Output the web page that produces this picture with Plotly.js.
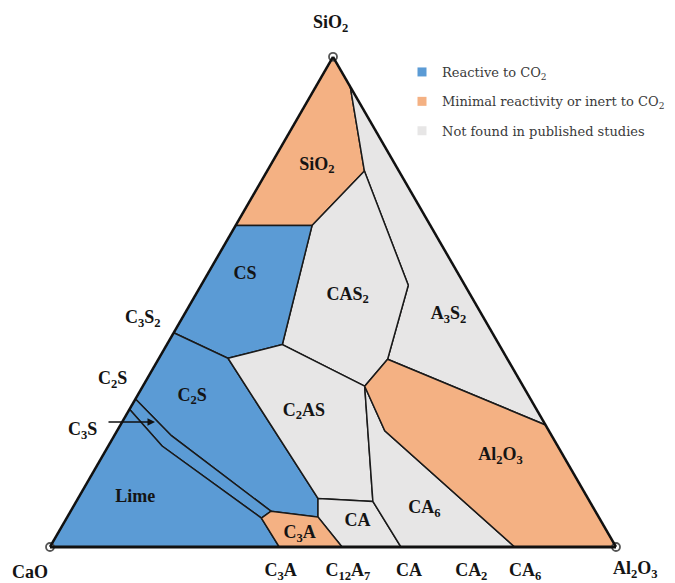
<!DOCTYPE html>
<html><head><meta charset="utf-8">
<script src="https://cdn.plot.ly/plotly-3.0.1.min.js"></script>
<style>html,body{margin:0;padding:0;background:#fff}#chart{width:675px;height:583px}</style>
</head><body><div id="chart"></div>
<script>
// Phase fields of the CaO–SiO2–Al2O3 system (compositions in %)
const regionNames = ['SiO2', 'A3S2', 'CAS2', 'CS', 'C2S', 'C3S', 'Lime', 'C2AS', 'CA', 'CA6', 'Al2O3', 'C3A'];
const regionClass = ['inert', 'none', 'none', 'reactive', 'reactive', 'reactive', 'reactive', 'none', 'none', 'none', 'inert', 'inert'];
const regionSiO2 = [
  [100, 93.9, 76.7, 65.6, 65.6, 100],
  [93.9, 24.9, 38.3, 53.4, 76.7, 93.9],
  [65.6, 76.7, 53.4, 38.3, 32.8, 41.3, 65.6],
  [65.6, 65.6, 41.3, 38.5, 43.7, 65.6],
  [43.7, 38.5, 9.9, 6.1, 7.3, 22.7, 30.2, 43.7],
  [30.2, 22.7, 7.3, 5.9, 20.6, 28.1, 30.2],
  [0, 28.1, 20.6, 5.9, 0, 0],
  [38.5, 41.3, 32.8, 9.3, 9.9, 38.5],
  [9.9, 9.3, 0, 0, 6.1, 9.9],
  [32.8, 23.7, 0, 0, 9.3, 32.8],
  [38.3, 24.9, 0, 0, 23.7, 32.8, 38.3],
  [5.9, 7.3, 6.1, 0, 0, 5.9]
];
const regionCaO = [
  [0, 0, 6.1, 20.9, 34.4, 0],
  [0, 0, 21.2, 10.0, 6.1, 0],
  [20.9, 6.1, 10.0, 21.2, 28.0, 38.3, 20.9],
  [34.4, 20.9, 38.3, 49.3, 56.3, 34.4],
  [56.3, 49.3, 47.7, 49.6, 57.3, 67.2, 69.8, 56.3],
  [69.8, 67.2, 57.3, 59.7, 69.9, 71.9, 69.8],
  [100, 71.9, 69.9, 59.7, 59.5, 100],
  [49.3, 38.3, 28.0, 38.3, 47.7, 49.3],
  [47.7, 38.3, 38.0, 48.4, 49.6, 47.7],
  [28.0, 29.0, 17.9, 38.0, 38.3, 28.0],
  [21.2, 0, 0, 17.9, 29.0, 28.0, 21.2],
  [59.7, 57.3, 49.6, 48.4, 59.5, 59.7]
];
const regionAl2O3 = [
  [0, 6.1, 17.2, 13.5, 0, 0],
  [6.1, 75.1, 40.5, 36.6, 17.2, 6.1],
  [13.5, 17.2, 36.6, 40.5, 39.2, 20.4, 13.5],
  [0, 13.5, 20.4, 12.2, 0, 0],
  [0, 12.2, 42.4, 44.3, 35.4, 10.1, 0, 0],
  [0, 10.1, 35.4, 34.4, 9.5, 0, 0],
  [0, 0, 9.5, 34.4, 40.5, 0],
  [12.2, 20.4, 39.2, 52.4, 42.4, 12.2],
  [42.4, 52.4, 62.0, 51.6, 44.3, 42.4],
  [39.2, 47.3, 82.1, 62.0, 52.4, 39.2],
  [40.5, 75.1, 100, 82.1, 47.3, 39.2, 40.5],
  [34.4, 35.4, 44.3, 51.6, 40.5, 34.4]
];

// Field labels
const labelText = ['SiO<sub>2</sub>', 'CS', 'CAS<sub>2</sub>', 'A<sub>3</sub>S<sub>2</sub>', 'C<sub>2</sub>S', 'C<sub>2</sub>AS',
  'Al<sub>2</sub>O<sub>3</sub>', 'Lime', 'C<sub>3</sub>A', 'CA', 'CA<sub>6</sub>'];
const labelSiO2 = [77.9, 55.5, 51.4, 47.4, 30.8, 27.7, 18.6, 10.1, 2.8, 5.1, 7.9];
const labelCaO = [13.9, 37.8, 21.7, 5.9, 59.5, 41.3, 11.1, 79.9, 54.5, 43.1, 29.9];
const labelAl2O3 = [8.2, 6.7, 26.9, 46.7, 9.7, 31.0, 70.3, 10.0, 42.7, 51.8, 62.2];

// Compounds on the CaO–Al2O3 join (tick positions as CaO %)
const baseTickCaO = [59.8, 47.9, 37.1, 26.1, 16.6];
const baseTickText = ['C<sub>3</sub>A', 'C<sub>12</sub>A<sub>7</sub>', 'CA', 'CA<sub>2</sub>', 'CA<sub>6</sub>'];

// Vertices
const vertexSiO2 = [100, 0, 0];
const vertexCaO = [0, 100, 0];
const vertexAl2O3 = [0, 0, 100];

// Legend
const legendClass = ['reactive', 'inert', 'none'];
const legendNames = ['Reactive to CO<sub>2</sub>', 'Minimal reactivity or inert to CO<sub>2</sub>', 'Not found in published studies'];

const classColor = {reactive: '#5B9BD5', inert: '#F4B183', none: '#E7E6E6'};
const serif = 'Liberation Serif, Times New Roman, serif';

const traces = [];
regionNames.forEach(function (name, i) {
  traces.push({
    type: 'scatterternary', mode: 'lines', name: name,
    a: regionSiO2[i], b: regionCaO[i], c: regionAl2O3[i],
    fill: 'toself', fillcolor: classColor[regionClass[i]],
    line: {color: '#1a1a1a', width: 1.5},
    showlegend: false, hoverinfo: 'skip'
  });
});
traces.push({
  type: 'scatterternary', mode: 'text',
  a: labelSiO2, b: labelCaO, c: labelAl2O3, text: labelText,
  textposition: 'middle center',
  textfont: {family: serif, size: 18, color: '#141414', weight: 'bold'},
  showlegend: false, hoverinfo: 'skip'
});
traces.push({
  type: 'scatterternary', mode: 'markers',
  a: vertexSiO2, b: vertexCaO, c: vertexAl2O3,
  marker: {symbol: 'circle-open', size: 8, color: '#555', line: {width: 1.8}},
  cliponaxis: false, showlegend: false, hoverinfo: 'skip'
});
legendClass.forEach(function (cls, i) {
  traces.push({
    type: 'scatterternary', mode: 'markers', name: legendNames[i],
    a: [null], b: [null], c: [null], legendgroup: cls,
    marker: {symbol: 'square', size: 9, color: classColor[cls]},
    showlegend: true, hoverinfo: 'skip'
  });
});

function P(px, py) { return {x: px / 675, y: 1 - py / 583}; }
const titleFont = {family: serif, size: 18, color: '#141414', weight: 'bold'};
function ann(px, py, text) {
  const p = P(px, py);
  return {xref: 'paper', yref: 'paper', x: p.x, y: p.y, text: text, showarrow: false,
    font: titleFont, xanchor: 'center', yanchor: 'middle'};
}
const arrowHead = P(155, 422);
const noTitle = {text: ''};

const layout = {
  width: 675, height: 583,
  margin: {l: 0, r: 0, t: 0, b: 0},
  paper_bgcolor: '#fff',
  showlegend: true,
  legend: {x: 402 / 675, y: 1 - 57 / 583, xanchor: 'left', yanchor: 'top',
    bgcolor: 'rgba(0,0,0,0)', tracegroupgap: 9.5,
    font: {family: 'DejaVu Serif, serif', size: 13, color: '#3a3a3a'}},
  ternary: {
    sum: 100,
    domain: {x: [50 / 675, 616 / 675], y: [0.02216, 0.94216]},
    bgcolor: '#fff',
    aaxis: {title: noTitle, showline: true, linecolor: '#111', linewidth: 2.5, showgrid: false, showticklabels: false, ticks: ''},
    baxis: {title: noTitle, showline: true, linecolor: '#111', linewidth: 3, showgrid: false,
      tickmode: 'array', tickvals: baseTickCaO, ticktext: baseTickText,
      ticks: 'outside', ticklen: 6, tickcolor: 'rgba(0,0,0,0)',
      tickfont: {family: serif, size: 18, color: '#141414', weight: 'bold'}},
    caxis: {title: noTitle, showline: true, linecolor: '#111', linewidth: 2.5, showgrid: false, showticklabels: false, ticks: ''}
  },
  annotations: [
    ann(330, 23, 'SiO<sub>2</sub>'),
    ann(30, 572, 'CaO'),
    ann(635, 569, 'Al<sub>2</sub>O<sub>3</sub>'),
    ann(143, 318, 'C<sub>3</sub>S<sub>2</sub>'),
    ann(113, 379, 'C<sub>2</sub>S'),
    ann(82, 430, 'C<sub>3</sub>S'),
    {xref: 'paper', yref: 'paper', x: arrowHead.x, y: arrowHead.y, text: '', showarrow: true,
      axref: 'pixel', ayref: 'pixel', ax: -48, ay: 0,
      arrowhead: 2, arrowsize: 1, arrowwidth: 1.5, arrowcolor: '#111'}
  ]
};

Plotly.newPlot('chart', traces, layout, {displayModeBar: false, staticPlot: true});
</script>
</body></html>
